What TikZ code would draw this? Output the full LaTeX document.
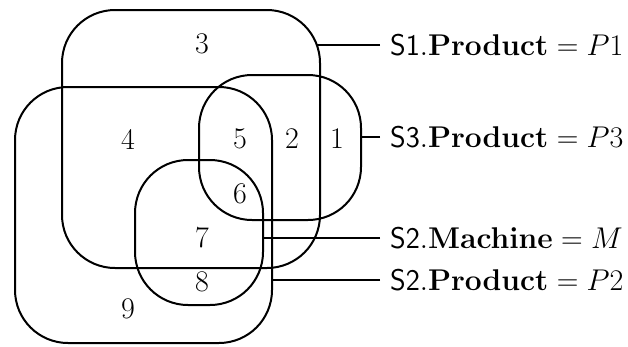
\RequirePackage{fix-cm}
\documentclass[tikz,border=0pt]{standalone}
\begin{document}
\begin{tikzpicture}[x=1pt,y=-1pt,
  setbox/.style={draw,line width=2pt,rounded corners=53pt,inner sep=0pt,outer sep=0pt},
  num/.style={inner sep=0pt,font=\fontsize{30}{36}\selectfont},
  lab/.style={anchor=west,inner sep=0pt,font=\fontsize{30}{36}\selectfont},
  conn/.style={line width=2pt}]
\useasboundingbox (0,0) rectangle (628,346);
% sets
\node[setbox,minimum width=258pt,minimum height=258pt] (s1) at (191,139) {};
\node[setbox,minimum width=257pt,minimum height=256pt] (s2p) at (143.5,215) {};
\node[setbox,minimum width=162pt,minimum height=145pt] (s3) at (280,147.5) {};
\node[setbox,minimum width=128pt,minimum height=145pt] (s2m) at (199,232.5) {};
% region numbers
\node[num] (n3) at (202,44) {3};
\node[num] (n4) at (128,139) {4};
\node[num] (n5) at (240,139) {5};
\node[num] (n2) at (292,139) {2};
\node[num] (n1) at (337,139) {1};
\node[num] (n6) at (240,194) {6};
\node[num] (n7) at (202,238) {7};
\node[num] (n8) at (202,282) {8};
\node[num] (n9) at (128,309) {9};
% labels
\node[lab] (l1) at (390,45) {$\mathsf{S1}.\mathbf{Product}=P1$};
\node[lab] (l3) at (390,137) {$\mathsf{S3}.\mathbf{Product}=P3$};
\node[lab] (l2m) at (390,238) {$\mathsf{S2}.\mathbf{Machine}=M$};
\node[lab] (l2p) at (390,280) {$\mathsf{S2}.\mathbf{Product}=P2$};
% connectors
\draw[conn,shorten <=10pt,shorten >=-3pt] (l1.west) -- (l1.west -| s1.east);
\draw[conn,shorten <=10pt] (l3.west) -- (l3.west -| s3.east);
\draw[conn,shorten <=10pt] (l2m.west) -- (l2m.west -| s2m.east);
\draw[conn,shorten <=10pt] (l2p.west) -- (l2p.west -| s2p.east);
\end{tikzpicture}
\end{document}
